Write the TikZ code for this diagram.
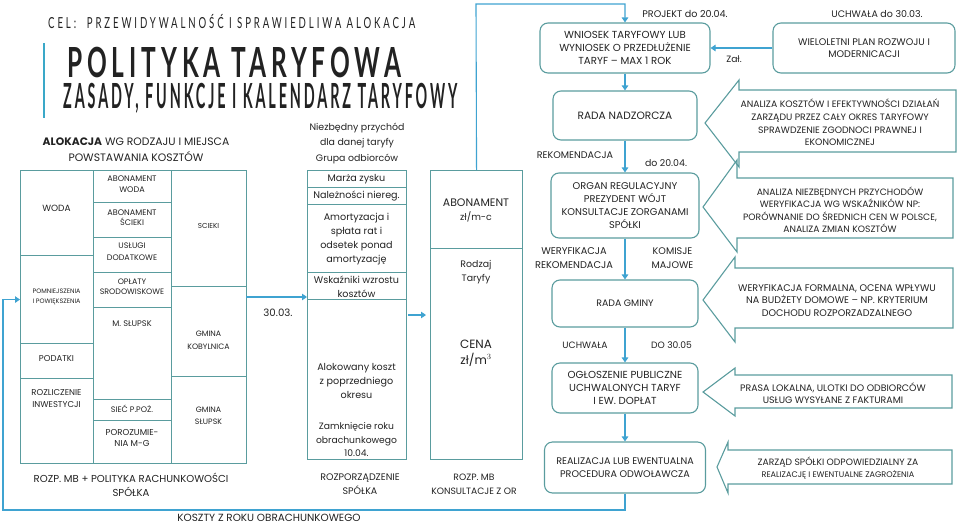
\documentclass[tikz,border=0pt]{standalone}
\usepackage{fontspec}
\usepackage{graphicx}
\setmainfont{Poppins}
\newfontfamily\titlefont[LetterSpace=20]{Lato}
\newfontfamily\celfont[LetterSpace=30]{Lato}
\usetikzlibrary{arrows.meta}
\definecolor{boxc}{HTML}{5A9C9E}
\definecolor{arrc}{HTML}{3FA3D1}
\definecolor{barc}{HTML}{3AA8C8}
\definecolor{txt}{HTML}{222222}
\newcommand\fs[2]{\fontsize{#1}{#2}\selectfont}
\newcommand\cellat[5]{\node[cell, minimum width={#4-#2}, minimum height={#5-#3}] (#1) at (#2,#3) {};}
\tikzset{
  cell/.style={draw=boxc, line width=1.1pt, inner sep=0pt, anchor=north west},
  rbox/.style={draw=boxc, line width=1.1pt, rounded corners=8pt, inner sep=0pt, align=center, text=txt, font=\fs{9.8}{13}},
  conn/.style={draw=arrc, line width=1.1pt, -{Triangle[width=6.5pt,length=5pt]}},
  lbl/.style={text=txt, inner sep=0pt, align=center},
  callout/.style={draw=boxc, line width=1.1pt, line join=miter},
  gtxt/.style={lbl, font=\fs{8.1}{11}},
  mtxt/.style={lbl, font=\fs{9.6}{14}},
  ctxt/.style={lbl, font=\fs{9.3}{12.7}},
}
\begin{document}
\begin{tikzpicture}[x=1pt,y=-1pt]
\useasboundingbox (0,0) rectangle (960,525);

% ---- title block
\draw[barc, line width=1.2pt] (44,43) -- (44,118);
\node[lbl, anchor=base west] (cel) at (48,28) {\resizebox{367pt}{\height}{\fs{15.2}{18}\celfont CEL:\ \ PRZEWIDYWALNOŚĆ I SPRAWIEDLIWA ALOKACJA}};
\node[lbl, anchor=base west] (tit) at (67,77) {\resizebox{334pt}{\height}{\fs{41.5}{44}\titlefont\bfseries POLITYKA TARYFOWA}};
\node[lbl, anchor=base west] (sub) at (63,108) {\resizebox{394pt}{\height}{\fs{34.6}{38}\titlefont\bfseries ZASADY, FUNKCJE I KALENDARZ TARYFOWY}};

\node[lbl, font=\fs{10.8}{16}] (alokh) at (136,149.5) {\textbf{ALOKACJA} WG RODZAJU I MIEJSCA\\POWSTAWANIA KOSZTÓW};
\node[lbl, font=\fs{9.4}{15.5}] (niezb) at (357,143.5) {Niezbędny przychód\\dla danej taryfy\\Grupa odbiorców};

% ---- left grid
\cellat{woda}{20}{170}{93}{255}
\cellat{pomn}{20}{255}{93}{343}
\cellat{podat}{20}{343}{93}{378}
\cellat{rozl}{20}{378}{93}{463}
\cellat{abw}{93}{170}{171}{202}
\cellat{abs}{93}{202}{171}{237}
\cellat{usl}{93}{237}{171}{272}
\cellat{opl}{93}{272}{171}{307}
\cellat{msl}{93}{307}{171}{399}
\cellat{siec}{93}{399}{171}{420}
\cellat{poroz}{93}{420}{171}{463}
\cellat{sciek}{171}{170}{246}{286}
\cellat{kobyl}{171}{286}{246}{376}
\cellat{gslup}{171}{376}{246}{463}

\node[gtxt, font=\fs{9}{11}] (twoda) at (56.5,208) {WODA};
\node[gtxt, font=\fs{6.4}{10}] (tpomn) at (56.5,297) {POMNIEJSZENIA\\I POWIĘKSZENIA};
\node[gtxt, font=\fs{8.5}{11}] (tpodat) at (56.5,358.5) {PODATKI};
\node[gtxt, font=\fs{8.5}{12}] (trozl) at (56.5,399) {ROZLICZENIE\\INWESTYCJI};
\node[gtxt] (tabw) at (132,184) {ABONAMENT\\WODA};
\node[gtxt, font=\fs{8.1}{10.5}] (tabs) at (132,217.5) {ABONAMENT\\ŚCIEKI};
\node[gtxt, font=\fs{8}{12}] (tusl) at (132,251.5) {USŁUGI\\DODATKOWE};
\node[gtxt, font=\fs{7.9}{10}] (topl) at (132,286.5) {OPŁATY\\SRODOWISKOWE};
\node[gtxt, font=\fs{8.2}{11}] (tmsl) at (132,324) {M. SŁUPSK};
\node[gtxt, font=\fs{8}{11}] (tsiec) at (132,408.5) {SIEĆ P.POŻ.};
\node[gtxt, font=\fs{8.6}{11.5}] (tporoz) at (132,438) {POROZUMIE-\\NIA M-G};
\node[gtxt, font=\fs{7.2}{11}] (tsciek) at (208.5,226) {SCIEKI};
\node[gtxt, font=\fs{7.8}{13}] (tkobyl) at (208.5,340.5) {GMINA\\KOBYLNICA};
\node[gtxt, font=\fs{7.8}{11.5}] (tgslup) at (208.5,416) {GMINA\\SŁUPSK};

\node[lbl, font=\fs{10.1}{14}] (rozpmb) at (131,484.5) {ROZP. MB + POLITYKA RACHUNKOWOŚCI\\SPÓŁKA};
\node[lbl, font=\fs{10.4}{13}] (koszty) at (269,518) {KOSZTY Z ROKU OBRACHUNKOWEGO};

% ---- middle column
\cellat{marza}{307}{170}{406}{187}
\cellat{nalez}{307}{187}{406}{204}
\cellat{amort}{307}{204}{406}{272}
\cellat{wsk}{307}{272}{406}{299}
\cellat{alok}{307}{299}{406}{459}
\node[mtxt] (tmarza) at (356.5,179) {Marża zysku};
\node[mtxt] (tnalez) at (356.5,196) {Należności niereg.};
\node[mtxt] (tamort) at (356.5,239) {Amortyzacja i\\spłata rat i\\odsetek ponad\\amortyzację};
\node[mtxt] (twsk) at (356.5,286.5) {Wskaźniki wzrostu\\kosztów};
\node[mtxt] (talok) at (356.5,381) {Alokowany koszt\\z poprzedniego\\okresu};
\node[mtxt, font=\fs{9.2}{13.5}] (tzamk) at (356.5,440) {Zamknięcie roku\\obrachunkowego\\10.04.};
\node[lbl, font=\fs{9.5}{14}] (rozporz) at (360,484.5) {ROZPORZĄDZENIE\\SPÓŁKA};

\node[lbl, font=\fs{10.2}{14}] (d3003) at (278,313) {30.03.};

% ---- abonament column
\cellat{abon}{430}{170}{522}{248}
\cellat{rodz}{430}{248}{522}{459}
\node[lbl, font=\fs{9.4}{14}] (tabon) at (476,210.5) {{\fs{10.9}{14}ABONAMENT}\\zł/m-c};
\node[lbl, font=\fs{9.4}{14}] (trodz) at (476,272.5) {Rodzaj\\Taryfy};
\node[lbl, font=\fs{12}{16}] (tcena) at (476,353) {CENA\\zł/m$^3$};
\node[lbl, font=\fs{9.2}{14}] (rozpor) at (474,484.5) {ROZP. MB\\KONSULTACJE Z OR};

% ---- right column process
\node[rbox, font=\fs{10.2}{13}, minimum width=170, minimum height=50] (wniosek) at (625,48) {WNIOSEK TARYFOWY LUB\\WYNIOSEK O PRZEDŁUŻENIE\\TARYF -- MAX 1 ROK};
\node[rbox, font=\fs{10.6}{13}, minimum width=144, minimum height=49] (rnadz) at (625,115.5) {RADA NADZORCZA};
\node[rbox, font=\fs{9.8}{13}, minimum width=148, minimum height=65] (organ) at (625,205.5) {ORGAN REGULACYJNY\\PREZYDENT WÓJT\\KONSULTACJE ZORGANAMI\\SPÓŁKI};
\node[rbox, font=\fs{9.4}{13}, minimum width=146, minimum height=47] (rgminy) at (625,303.5) {RADA GMINY};
\node[rbox, font=\fs{10.2}{13}, minimum width=146, minimum height=50] (oglosz) at (625,388) {OGŁOSZENIE PUBLICZNE\\UCHWALONYCH TARYF\\I EW. DOPŁAT};
\node[rbox, font=\fs{9.6}{12.5}, minimum width=161, minimum height=51] (real) at (625,467.5) {REALIZACJA LUB EWENTUALNA\\PROCEDURA ODWOŁAWCZA};
\node[rbox, font=\fs{9.6}{12.5}, minimum width=182, minimum height=50] (wielo) at (864,48) {WIELOLETNI PLAN ROZWOJU I\\MODERNICACJI};

\node[lbl, font=\fs{9.6}{13}] (projekt) at (685,14) {PROJEKT do 20.04.};
\node[lbl, font=\fs{9.5}{13}] (uchw1) at (877,14) {UCHWAŁA do 30.03.};
\node[lbl, font=\fs{9.2}{13}] (zal) at (734,59) {Zał.};
\node[lbl, font=\fs{9.6}{13}] (rekom) at (575,155) {REKOMENDACJA};
\node[lbl, font=\fs{9.4}{13}] (do2004) at (666,163) {do 20.04.};
\node[lbl, font=\fs{9.8}{14}] (weryf) at (574,258) {WERYFIKACJA\\REKOMENDACJA};
\node[lbl, font=\fs{9.6}{14}] (komis) at (672.5,258) {KOMISJE\\MAJOWE};
\node[lbl, font=\fs{9.2}{13}] (uchw2) at (585,345) {UCHWAŁA};
\node[lbl, font=\fs{9.2}{13}] (do3005) at (671.5,345) {DO 30.05};

% ---- callouts
\draw[callout] (705,123) -- (739,80) -- (739,90) -- (956,90) -- (956,152) -- (739,152) -- (739,167) -- cycle;
\draw[callout] (703,207) -- (737,160) -- (737,178) -- (953,178) -- (953,238) -- (737,238) -- (737,252) -- cycle;
\draw[callout] (703,300) -- (735,257) -- (735,268) -- (953,268) -- (953,328) -- (735,328) -- (735,342) -- cycle;
\draw[callout] (703,392) -- (735,368) -- (735,375) -- (952,375) -- (952,408) -- (735,408) -- (735,416) -- cycle;
\draw[callout] (717,467) -- (728,442) -- (728,450) -- (952,450) -- (952,484) -- (728,484) -- (728,493) -- cycle;
\node[ctxt] (c1) at (840,122.5) {ANALIZA KOSZTÓW I EFEKTYWNOŚCI DZIAŁAŃ\\ZARZĄDU PRZEZ CAŁY OKRES TARYFOWY\\SPRAWDZENIE ZGODNOCI PRAWNEJ I\\EKONOMICZNEJ};
\node[ctxt, font=\fs{9.2}{12.5}] (c2) at (840,210) {ANALIZA NIEZBĘDNYCH PRZYCHODÓW\\WERYFIKACJA WG WSKAŹNIKÓW NP:\\PORÓWNANIE DO ŚREDNICH CEN W POLSCE,\\ANALIZA ZMIAN KOSZTÓW};
\node[ctxt, font=\fs{9.6}{12.7}] (c3) at (837,300.5) {WERYFIKACJA FORMALNA, OCENA WPŁYWU\\NA BUDŻETY DOMOWE -- NP. KRYTERIUM\\DOCHODU ROZPORZADZALNEGO};
\node[ctxt, font=\fs{9.4}{12.5}] (c4) at (833,393) {PRASA LOKALNA, ULOTKI DO ODBIORCÓW\\USŁUG WYSYŁANE Z FAKTURAMI};
\node[ctxt, font=\fs{9.2}{12.5}] (c5) at (838,468) {ZARZĄD SPÓŁKI ODPOWIEDZIALNY ZA\\{\fs{8.1}{12.5}REALIZACJĘ I EWENTUALNE ZAGROŻENIA}};

% ---- connectors
\draw[conn] (wniosek) -- (rnadz);
\draw[conn] (rnadz) -- (organ);
\draw[conn] (organ) -- (rgminy);
\draw[conn] (rgminy) -- (oglosz);
\draw[conn] (oglosz) -- (real);
\draw[conn] (wielo) -- (wniosek);

\coordinate (lt) at (476,4);
\draw[conn] (abon.north) -- (lt) -| (wniosek.north);
\coordinate (lb) at (3,510);
\draw[conn] (real.south) |- (lb) |- (pomn.west);

\coordinate (a1) at (246,297);
\coordinate (a2) at (307,297);
\draw[conn] (a1) -- (a2);
\coordinate (s1) at (408,315);
\coordinate (s2) at (426,315);
\draw[conn] (s1) -- (s2);
\end{tikzpicture}
\end{document}
